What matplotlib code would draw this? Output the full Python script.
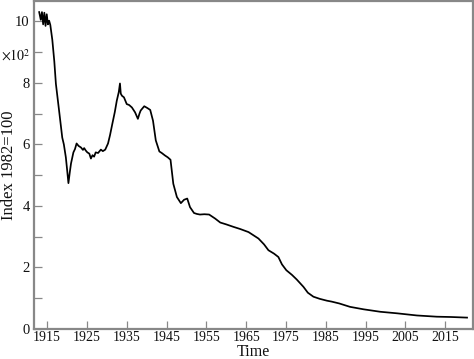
import matplotlib
matplotlib.use("Agg")
import matplotlib.pyplot as plt
from matplotlib.ticker import MultipleLocator, FuncFormatter

years = [1913.0, 1913.4, 1913.7, 1914.0, 1914.3, 1914.6, 1914.9, 1915.2, 1915.5, 1915.8,
         1916.3, 1916.8, 1917.2, 1918.0, 1918.8, 1919.2, 1919.7, 1920.0, 1920.35, 1920.7,
         1921.0, 1921.6, 1922.0, 1922.4, 1922.9, 1923.5, 1924.0, 1924.3, 1924.7, 1925.1,
         1925.6, 1926.0, 1926.4, 1926.8, 1927.2, 1927.8, 1928.5, 1929.0, 1929.6, 1930.3,
         1930.8, 1931.4, 1932.0, 1932.5, 1933.0, 1933.3, 1933.5, 1933.8, 1934.3, 1935.0,
         1935.6, 1936.3, 1937.1, 1937.8, 1938.2, 1938.5, 1939.4, 1940.2, 1940.9, 1941.6,
         1942.3, 1943.2, 1943.8, 1944.6, 1945.3, 1946.0, 1946.7, 1947.6, 1948.6, 1949.4,
         1950.2, 1950.9, 1951.9, 1952.6, 1953.4, 1954.5, 1955.7, 1957.2, 1958.5, 1960.0,
         1961.8, 1963.5, 1965.6, 1968.1, 1969.5, 1970.6, 1972.0, 1973.1, 1974.0, 1975.1,
         1976.5, 1977.7, 1979.4, 1980.5, 1981.9, 1983.5, 1985.3, 1986.5, 1988.4, 1991.1,
         1994.5, 1998.7, 2002.9, 2007.9, 2012.9, 2016.5, 2020.5]
index_values = [1030, 1005, 1030, 990, 1028, 985, 1023, 990, 1002, 988,
                940, 870, 797, 710, 622, 600, 558, 520, 474, 510,
                538, 574, 585, 603, 595, 590, 582, 588, 580, 574,
                570, 554, 565, 560, 574, 572, 583, 578, 583, 603,
                630, 668, 705, 742, 770, 798, 765, 758, 753, 731,
                728, 720, 704, 683, 700, 710, 724, 718, 712, 677,
                613, 577, 572, 564, 558, 550, 472, 429, 409, 420,
                424, 396, 377, 374, 372, 373, 372, 359, 346, 340,
                332, 325, 315, 294, 275, 256, 245, 234, 210, 191,
                176, 161, 137, 118, 105, 98, 92, 89, 83, 72,
                64, 56, 51, 44, 40, 39, 37]
x_ticks = [1915, 1925, 1935, 1945, 1955, 1965, 1975, 1985, 1995, 2005, 2015]

plt.rcParams['font.family'] = ['Liberation Serif', 'DejaVu Serif']
plt.rcParams['mathtext.fontset'] = 'stix'

W, H = 474, 359
fig = plt.figure(figsize=(W/100, H/100), dpi=100)
ax = fig.add_axes([34/W, 30/H, 439/W, 328/H])

ax.plot(years, index_values, color='black', lw=1.25)

ax.set_xlim(1911.7, 2022.0)
ax.set_ylim(0, 1066)
ax.set_xticks(x_ticks)
ax.set_xticklabels([str(t) for t in x_ticks])
ax.yaxis.set_major_locator(MultipleLocator(200))
ax.yaxis.set_minor_locator(MultipleLocator(100))
ax.yaxis.set_major_formatter(FuncFormatter(lambda v, p: f"{v/100:.0f}"))

gray = '#888888'
for s in ax.spines.values():
    s.set_color(gray)
    s.set_linewidth(1.6)
ax.tick_params(axis='both', which='both', direction='in', color=gray, width=0.9,
               labelsize=10.5, labelcolor='#111111')
ax.tick_params(axis='both', which='major', length=5.5, pad=3)
ax.tick_params(axis='y', which='minor', length=5.5)
ax.tick_params(axis='x', labelsize=10, pad=1.5)

fig.text(253/W, 1 - 356.5/H, 'Time', fontsize=11.5, ha='center', va='baseline', color='#111111')
fig.text(9/W, 1 - 165/H, 'Index 1982=100', fontsize=12, rotation=90,
         ha='center', va='center', color='#111111')
fig.text(1/W, 1 - 56/H, r'$\times 10^{2}$', fontsize=10, ha='left', va='center', color='#111111')

fig.savefig('out.png', dpi=100)
